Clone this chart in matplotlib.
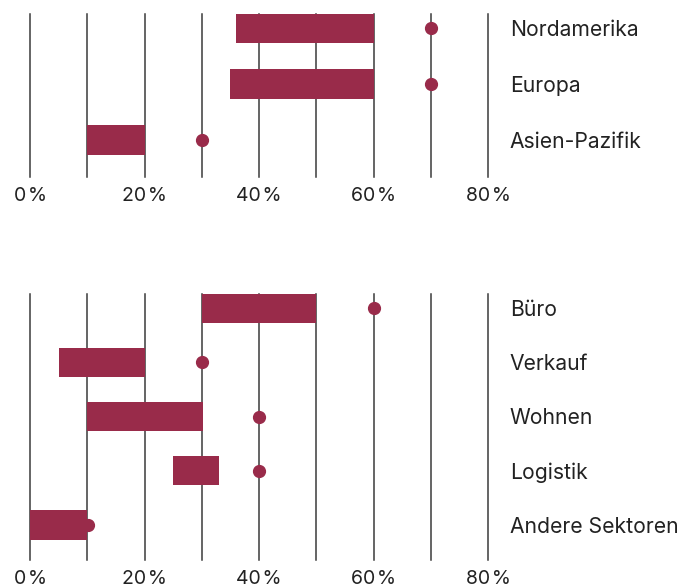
import matplotlib.pyplot as plt

# Daten: Spanne (von/bis) und Punktwert je Kategorie
regionen = ["Nordamerika", "Europa", "Asien-Pazifik"]
regionen_von = [36, 35, 10]
regionen_bis = [60, 60, 20]
regionen_punkt = [70, 70, 30]

sektoren = ["Büro", "Verkauf", "Wohnen", "Logistik", "Andere Sektoren"]
sektoren_von = [30, 5, 10, 25, 0]
sektoren_bis = [50, 20, 30.3, 33, 10]
sektoren_punkt = [60, 30, 40, 40, 10.2]

ticks = [0, 20, 40, 60, 80]
tick_labels = ["0\u200a%", "20\u200a%", "40\u200a%", "60\u200a%", "80\u200a%"]
gitter = [0, 10, 20, 30, 40, 50, 60, 70, 80]

ROT = "#992b4a"
TEXT = "#222222"

plt.rcParams["font.family"] = ["Inter", "DejaVu Sans"]

W, H = 680, 587
fig = plt.figure(figsize=(W / 100, H / 100), dpi=100)


def panel(rect, namen, von, bis, punkt, ylim, bar_h):
    ax = fig.add_axes(rect)
    ax.set_xlim(0, 80)
    ax.set_ylim(*ylim)
    for g in gitter:
        ax.axvline(g, color="#3a3a3a", lw=1.1, zorder=1, clip_on=False)
    y = list(range(len(namen)))
    breiten = [b - v for v, b in zip(von, bis)]
    ax.barh(y, breiten, left=von, height=bar_h, color=ROT, zorder=2)
    ax.plot(punkt, y, "o", color=ROT, ms=8.5, zorder=3, clip_on=False)
    for yi, n in zip(y, namen):
        ax.text(83.8, yi + 0.035, n, ha="left", va="center",
                fontsize=15.2, color=TEXT)
    ax.set_xticks(ticks)
    ax.set_xticklabels(tick_labels, fontsize=14, color=TEXT)
    ax.tick_params(axis="x", length=0, pad=7.5)
    ax.set_yticks([])
    for s in ax.spines.values():
        s.set_visible(False)
    ax.patch.set_alpha(0)
    return ax


def rect(px_l, px_r, px_top, px_bot):
    return [px_l / W, 1 - px_bot / H, (px_r - px_l) / W, (px_bot - px_top) / H]


panel(rect(30, 488, 14, 177), regionen, regionen_von, regionen_bis,
      regionen_punkt, (2.66, -0.25), 0.54)
panel(rect(30, 488, 294, 560), sektoren, sektoren_von, sektoren_bis,
      sektoren_punkt, (4.645, -0.258), 0.535)

plt.savefig("out.png", dpi=100)
